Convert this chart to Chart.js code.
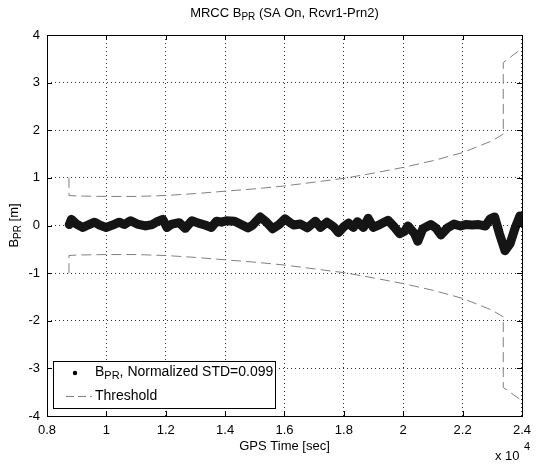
<!DOCTYPE html>
<html>
<head>
<meta charset="utf-8">
<script src="https://cdn.jsdelivr.net/npm/chart.js@4.4.1/dist/chart.umd.min.js"></script>
<style>
  html, body { margin: 0; padding: 0; background: #fff; }
  #wrap { width: 538px; height: 464px; }
</style>
</head>
<body>
<div id="wrap"><canvas id="c" width="538" height="464"></canvas></div>
<script>
// ---------- DATA (x in units of 10^4 sec) ----------
const sigX = [0.875, 0.882, 0.899, 0.921, 0.938, 0.960, 0.977, 0.999, 1.021, 1.043,
  1.060, 1.082, 1.104, 1.132, 1.154, 1.171, 1.190, 1.204, 1.221, 1.245,
  1.266, 1.288, 1.310, 1.332, 1.354, 1.371, 1.388, 1.404, 1.432, 1.454,
  1.477, 1.493, 1.518, 1.538, 1.560, 1.582, 1.602, 1.621, 1.632, 1.654,
  1.677, 1.704, 1.721, 1.743, 1.766, 1.782, 1.799, 1.816, 1.832, 1.846,
  1.866, 1.882, 1.899, 1.921, 1.949, 1.971, 1.988, 2.005, 2.016, 2.038,
  2.049, 2.066, 2.093, 2.110, 2.127, 2.149, 2.171, 2.193, 2.210, 2.232,
  2.254, 2.277, 2.293, 2.308, 2.324, 2.343, 2.360, 2.377, 2.393, 2.400];
const sigY = [0.02, 0.13, 0.03, -0.04, 0.01, 0.07, 0.01, -0.04, 0.01, 0.07,
  0.02, 0.10, 0.03, -0.01, 0.02, 0.08, 0.13, -0.04, 0.03, 0.06,
  -0.06, 0.10, 0.05, 0.01, -0.04, 0.09, 0.07, 0.10, 0.09, 0.02,
  -0.05, 0.01, 0.18, 0.08, -0.07, 0.02, 0.14, 0.05, 0.01, 0.03,
  -0.05, 0.09, -0.04, 0.07, -0.03, -0.15, -0.03, 0.05, -0.04, 0.08,
  -0.04, 0.15, -0.04, 0.02, 0.11, -0.04, -0.17, -0.12, -0.01, -0.17,
  -0.33, -0.07, 0.02, -0.05, -0.20, -0.05, 0.03, -0.01, 0.02, 0.01,
  0.02, -0.01, 0.14, 0.18, -0.17, -0.53, -0.38, -0.05, 0.20, 0.08];

const thrX = [0.874, 0.874, 0.9, 1.0, 1.1, 1.2, 1.3, 1.4, 1.5, 1.6, 1.7, 1.8,
  1.9, 2.0, 2.1, 2.2, 2.3, 2.337, 2.337, 2.4];
const thrUp = [1.0, 0.63, 0.62, 0.61, 0.61, 0.63, 0.67, 0.72, 0.77, 0.83, 0.91, 0.99,
  1.10, 1.22, 1.36, 1.53, 1.78, 1.92, 3.42, 3.72];
const thrLo = [-1.0, -0.63, -0.62, -0.61, -0.61, -0.63, -0.67, -0.72, -0.77, -0.83, -0.91, -0.99,
  -1.10, -1.22, -1.36, -1.53, -1.78, -1.92, -3.40, -3.68];

const xTicks = [0.8, 1, 1.2, 1.4, 1.6, 1.8, 2, 2.2, 2.4];
const yTicks = [-4, -3, -2, -1, 0, 1, 2, 3, 4];

const titleText = [["MRCC B", 0], ["PR", 1], [" (SA On, Rcvr1-Prn2)", 0]];
const yLabelText = [["B", 0], ["PR", 1], [" [m]", 0]];
const xLabelText = "GPS Time [sec]";
const legendSig = [["B", 0], ["PR", 1], [", Normalized STD=0.099", 0]];
const legendThr = "Threshold";

// ---------- HELPERS ----------
const FONT = "Liberation Sans, Arial, sans-serif";
const FS = 13;
const pts = (xs, ys) => xs.map((x, i) => ({ x, y: ys[i] }));

function richWidth(ctx, parts, size) {
  let w = 0;
  parts.forEach(([t, s]) => {
    ctx.font = `${s ? size - 3 : size}px ${FONT}`;
    w += ctx.measureText(t).width;
  });
  return w;
}

function drawRich(ctx, parts, x, y, size, align) {
  const w = richWidth(ctx, parts, size);
  let cx = align === "center" ? x - w / 2 : x;
  ctx.textAlign = "left";
  ctx.textBaseline = "middle";
  parts.forEach(([t, s]) => {
    ctx.font = `${s ? size - 3 : size}px ${FONT}`;
    ctx.fillText(t, cx, s ? y + 4 : y);
    cx += ctx.measureText(t).width;
  });
}

// ---------- DECORATION PLUGIN ----------
const matlabFrame = {
  id: "matlabFrame",
  afterDraw(chart) {
    const ctx = chart.ctx;
    const a = chart.chartArea;
    const xs = chart.scales.x, ys = chart.scales.y;
    ctx.save();
    ctx.fillStyle = "#000";
    ctx.strokeStyle = "#000";
    ctx.lineWidth = 1;
    ctx.setLineDash([]);

    // box
    ctx.strokeRect(Math.round(a.left) + 0.5, Math.round(a.top) + 0.5,
      Math.round(a.right - a.left), Math.round(a.bottom - a.top));

    // inward tick marks
    ctx.beginPath();
    xTicks.forEach(v => {
      const px = Math.round(xs.getPixelForValue(v)) + 0.5;
      ctx.moveTo(px, a.bottom); ctx.lineTo(px, a.bottom - 5);
      ctx.moveTo(px, a.top); ctx.lineTo(px, a.top + 5);
    });
    yTicks.forEach(v => {
      const py = Math.round(ys.getPixelForValue(v)) + 0.5;
      ctx.moveTo(a.left, py); ctx.lineTo(a.left + 5, py);
      ctx.moveTo(a.right, py); ctx.lineTo(a.right - 5, py);
    });
    ctx.stroke();

    // title and axis labels
    drawRich(ctx, titleText, (a.left + a.right) / 2, 13, FS, "center");
    ctx.font = `${FS}px ${FONT}`;
    ctx.textAlign = "center";
    ctx.textBaseline = "middle";
    ctx.fillText(xLabelText, (a.left + a.right) / 2, 446);

    ctx.save();
    ctx.translate(14, (a.top + a.bottom) / 2);
    ctx.rotate(-Math.PI / 2);
    drawRich(ctx, yLabelText, 0, 0, FS, "center");
    ctx.restore();

    // x 10^4
    ctx.font = `${FS}px ${FONT}`;
    ctx.textAlign = "left";
    ctx.fillText("x 10", 495, 456);
    ctx.font = `11px ${FONT}`;
    ctx.fillText("4", 524, 447);

    // legend
    const lx = 53.5, ly = 361.5, lw = 222, lh = 47;
    ctx.fillStyle = "#fff";
    ctx.fillRect(lx, ly, lw, lh);
    ctx.strokeRect(lx, ly, lw, lh);
    ctx.fillStyle = "#000";
    ctx.beginPath();
    ctx.arc(75, 373, 2.2, 0, Math.PI * 2);
    ctx.fill();
    drawRich(ctx, legendSig, 95, 372, 14, "left");
    ctx.strokeStyle = "#808080";
    ctx.setLineDash([8, 4]);
    ctx.beginPath();
    ctx.moveTo(66, 396.5); ctx.lineTo(92, 396.5);
    ctx.stroke();
    ctx.setLineDash([]);
    ctx.font = `14px ${FONT}`;
    ctx.fillText(legendThr, 95, 396);
    ctx.restore();
  }
};

// ---------- CHART ----------
new Chart(document.getElementById("c"), {
  type: "scatter",
  data: {
    datasets: [
      { label: "Threshold up", data: pts(thrX, thrUp), showLine: true, borderColor: "#808080",
        borderWidth: 1, borderDash: [10, 5], pointRadius: 0, tension: 0 },
      { label: "Threshold low", data: pts(thrX, thrLo), showLine: true, borderColor: "#808080",
        borderWidth: 1, borderDash: [10, 5], pointRadius: 0, tension: 0 },
      { label: "BPR", data: pts(sigX, sigY), showLine: true, borderColor: "#151515",
        borderWidth: 9, pointRadius: 0, tension: 0, borderJoinStyle: "round", borderCapStyle: "round" }
    ]
  },
  options: {
    responsive: false,
    animation: false,
    devicePixelRatio: 1,
    layout: { padding: { top: 35, right: 10, left: 0, bottom: 0 } },
    plugins: { legend: { display: false }, title: { display: false }, tooltip: { enabled: false } },
    scales: {
      x: {
        type: "linear", min: 0.8, max: 2.4,
        afterBuildTicks: s => { s.ticks = xTicks.map(v => ({ value: v })); },
        afterFit: s => { s.height = 48; },
        grid: { color: "#333", drawTicks: false, lineWidth: 1 },
        border: { display: false, dash: [1, 3] },
        ticks: { color: "#000", padding: 7, font: { family: FONT, size: FS },
          callback: v => String(Number(v.toFixed(1))) }
      },
      y: {
        type: "linear", min: -4, max: 4,
        afterBuildTicks: s => { s.ticks = yTicks.map(v => ({ value: v })); },
        afterFit: s => { s.width = 47; },
        grid: { color: "#333", drawTicks: false, lineWidth: 1 },
        border: { display: false, dash: [1, 3] },
        ticks: { color: "#000", padding: 7, font: { family: FONT, size: FS },
          callback: v => String(v) }
      }
    }
  },
  plugins: [matlabFrame]
});
</script>
</body>
</html>
